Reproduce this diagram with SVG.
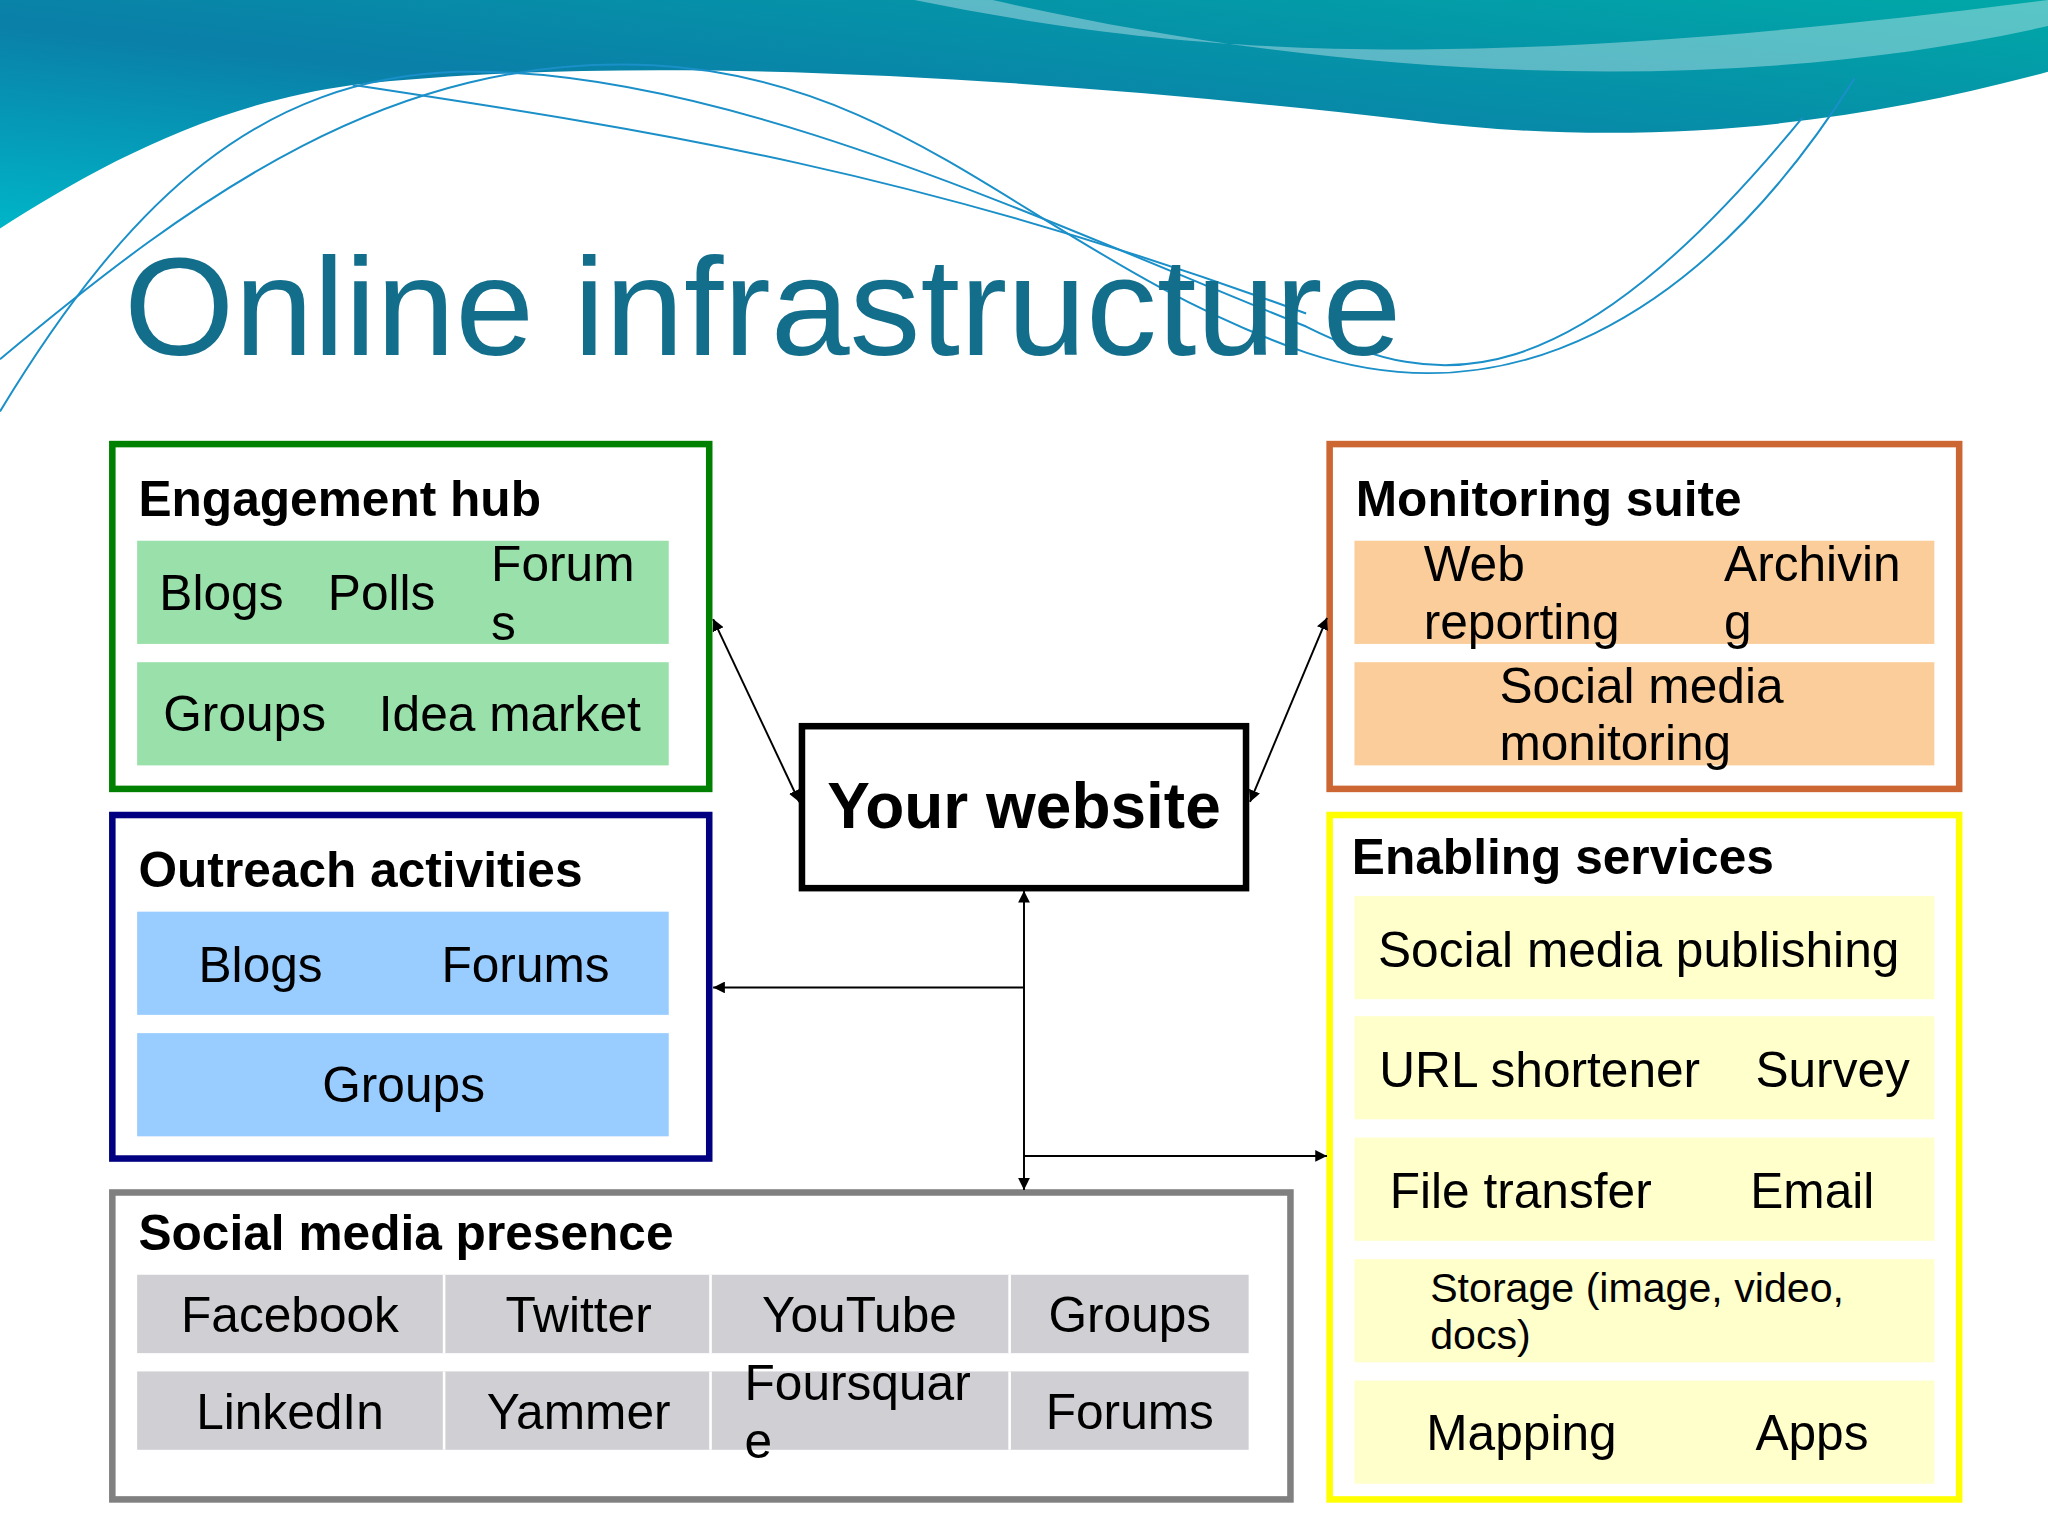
<svg xmlns="http://www.w3.org/2000/svg" width="2048" height="1536" viewBox="0 0 2048 1536">
<defs>
<linearGradient id="bg" x1="0" y1="1" x2="1" y2="0">
<stop offset="0" stop-color="#00B5C8"/><stop offset="0.45" stop-color="#0A7FA8"/><stop offset="1" stop-color="#00A8A8"/>
</linearGradient>
<marker id="ah" viewBox="0 0 10 10" refX="10" refY="5" markerWidth="9" markerHeight="9" orient="auto-start-reverse" markerUnits="userSpaceOnUse">
<path d="M0,0 L10,5 L0,10 z" fill="#000"/>
</marker>
<style>
text{font-family:"Liberation Sans",Arial,sans-serif;fill:#000}
.h{font-weight:bold;font-size:38px}
.t{font-size:38px}
.m{text-anchor:middle}
.c{fill:none;stroke:#000;stroke-width:1.5}
.sw{fill:none;stroke:#1A8FC8;stroke-width:1.5}
</style>
</defs>
<rect width="2048" height="1536" fill="#fff"/>
<g transform="scale(1.30612)">
<g id="background">
<path d="M0,0 H1568 V55 C1420,95 1260,115 1080,92 C800,60 500,40 270,65 C160,80 70,130 0,175 Z" fill="url(#bg)"/>
<path d="M700,0 C900,40 1100,60 1568,0 V20 C1300,80 1000,55 760,0 Z" fill="#fff" opacity="0.35"/>
<path class="sw" d="M0,275 C150,150 300,40 500,50 C700,60 800,200 1000,270 C1150,320 1300,250 1420,60"/>
<path class="sw" d="M0,315 C100,150 200,60 350,55 C550,50 800,170 1000,250 C1100,300 1200,310 1380,90"/>
<path class="sw" d="M270,65 C500,100 700,130 1000,240"/>
</g>
<text x="95" y="272" font-size="106" style="fill:#136E8C" textLength="978" lengthAdjust="spacingAndGlyphs">Online infrastructure</text>

<g id="engagement">
<rect x="86" y="340" width="457" height="264" fill="#fff" stroke="#008000" stroke-width="5"/>
<text class="h" x="106" y="395">Engagement hub</text>
<rect x="105" y="414" width="407" height="79" fill="#99E0AA"/>
<rect x="105" y="507" width="407" height="79" fill="#99E0AA"/>
<text class="t" x="122" y="467">Blogs</text><text class="t" x="251" y="467">Polls</text>
<text class="t" x="376" y="445">Forum</text><text class="t" x="376" y="490">s</text>
<text class="t" x="125" y="560">Groups</text><text class="t" x="290" y="560">Idea market</text>
</g>

<g id="monitoring">
<rect x="1018" y="340" width="482" height="264" fill="#fff" stroke="#CC6633" stroke-width="5"/>
<text class="h" x="1038" y="395">Monitoring suite</text>
<rect x="1037" y="414" width="444" height="79" fill="#FACD9A"/>
<rect x="1037" y="507" width="444" height="79" fill="#FACD9A"/>
<text class="t" x="1090" y="445">Web</text><text class="t" x="1090" y="489">reporting</text>
<text class="t" x="1320" y="445">Archivin</text><text class="t" x="1320" y="489">g</text>
<text class="t" x="1148" y="538">Social media</text><text class="t" x="1148" y="582">monitoring</text>
</g>

<g id="website">
<rect x="614" y="556" width="340" height="124" fill="#fff" stroke="#000" stroke-width="5"/>
<text class="m" x="784" y="634" font-weight="bold" font-size="49">Your website</text>
</g>

<g id="outreach">
<rect x="86" y="624" width="457" height="263" fill="#fff" stroke="#000080" stroke-width="5"/>
<text class="h" x="106" y="679">Outreach activities</text>
<rect x="105" y="698" width="407" height="79" fill="#99CCFF"/>
<rect x="105" y="791" width="407" height="79" fill="#99CCFF"/>
<text class="t" x="152" y="752">Blogs</text><text class="t" x="338" y="752">Forums</text>
<text class="t m" x="309" y="844">Groups</text>
</g>

<g id="enabling">
<rect x="1018" y="624" width="482" height="524" fill="#fff" stroke="#FFFF00" stroke-width="5"/>
<text class="h" x="1035" y="669">Enabling services</text>
<rect x="1037" y="686" width="444" height="79" fill="#FFFFCC"/>
<rect x="1037" y="778" width="444" height="79" fill="#FFFFCC"/>
<rect x="1037" y="871" width="444" height="79" fill="#FFFFCC"/>
<rect x="1037" y="964" width="444" height="79" fill="#FFFFCC"/>
<rect x="1037" y="1057" width="444" height="79" fill="#FFFFCC"/>
<text class="t" x="1055" y="740">Social media publishing</text>
<text class="t" x="1056" y="832">URL shortener</text><text class="t" x="1344" y="832">Survey</text>
<text class="t" x="1064" y="925">File transfer</text><text class="t" x="1340" y="925">Email</text>
<text x="1095" y="997" font-size="31.5">Storage (image, video,</text><text x="1095" y="1033" font-size="31.5">docs)</text>
<text class="t" x="1092" y="1110">Mapping</text><text class="t" x="1344" y="1110">Apps</text>
</g>

<g id="presence">
<rect x="86" y="913" width="902" height="235" fill="#fff" stroke="#808080" stroke-width="5"/>
<text class="h" x="106" y="957">Social media presence</text>
<rect x="105" y="976" width="851" height="60" fill="#D0CFD3"/>
<rect x="105" y="1050" width="851" height="60" fill="#D0CFD3"/>
<path d="M340,976V1036M544,976V1036M773,976V1036M340,1050V1110M544,1050V1110M773,1050V1110" stroke="#fff" stroke-width="2"/>
<text class="t m" x="222" y="1020">Facebook</text><text class="t m" x="443" y="1020">Twitter</text>
<text class="t m" x="658" y="1020">YouTube</text><text class="t m" x="865" y="1020">Groups</text>
<text class="t m" x="222" y="1094">LinkedIn</text><text class="t m" x="443" y="1094">Yammer</text>
<text class="t" x="570" y="1072">Foursquar</text><text class="t" x="570" y="1116">e</text>
<text class="t m" x="865" y="1094">Forums</text>
</g>

<g id="connectors">
<line class="c" x1="546" y1="474" x2="612" y2="614" marker-start="url(#ah)" marker-end="url(#ah)"/>
<line class="c" x1="957" y1="614" x2="1016" y2="473" marker-start="url(#ah)" marker-end="url(#ah)"/>
<line class="c" x1="784" y1="682" x2="784" y2="911" marker-start="url(#ah)" marker-end="url(#ah)"/>
<line class="c" x1="784" y1="756" x2="546" y2="756" marker-end="url(#ah)"/>
<line class="c" x1="784" y1="885" x2="1016" y2="885" marker-end="url(#ah)"/>
</g>
</g>
</svg>
